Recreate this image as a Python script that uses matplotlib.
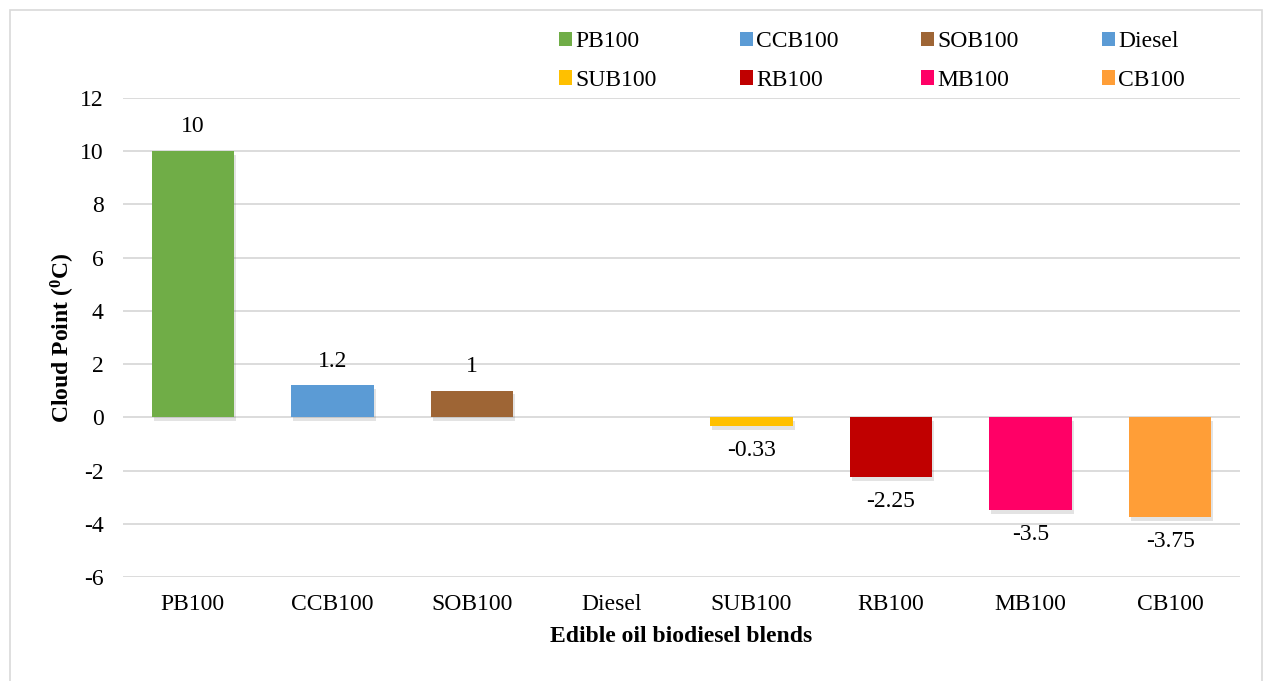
import matplotlib
matplotlib.use("Agg")
import matplotlib.pyplot as plt
import matplotlib.patheffects as pe
from matplotlib.patches import Rectangle, Patch

# Cloud point of edible oil biodiesel blends (deg C)
categories = ["PB100", "CCB100", "SOB100", "Diesel", "SUB100", "RB100", "MB100", "CB100"]
values = [10, 1.2, 1, 0, -0.33, -2.25, -3.5, -3.75]
colors = ["#70AD47", "#5B9BD5", "#9E6535", "#5B9BD5", "#FFC000", "#C00000", "#FF0066", "#FF9E37"]
yticks = [-6, -4, -2, 0, 2, 4, 6, 8, 10, 12]

plt.rcParams["font.family"] = ["Liberation Serif", "DejaVu Serif"]
FS = 17

fig = plt.figure(figsize=(12.64, 6.81), dpi=100)
fig.patch.set_facecolor("white")
# light frame around the chart area
fig.add_artist(Rectangle((10 / 1264, -0.01), 1252 / 1264, 1 - 10 / 681 + 0.01,
                         transform=fig.transFigure, fill=False,
                         edgecolor="#D9D9D9", linewidth=1.2))

ax = fig.add_axes([123 / 1264, 104 / 681, 1117 / 1264, 479 / 681])
x = list(range(len(categories)))
bars = ax.bar(x, values, width=0.59, color=colors, zorder=3)
shadow = [pe.SimplePatchShadow(offset=(1.5, -2.5), shadow_rgbFace="#808080", alpha=0.22),
          pe.Normal()]
for b in bars:
    b.set_path_effects(shadow)

for xi, v in zip(x, values):
    if v == 0:
        continue
    off = 10 if v > 0 else -10
    ax.annotate(f"{v:g}", (xi, v), xytext=(0, off), textcoords="offset points",
                ha="center", va="bottom" if v > 0 else "top", fontsize=FS)

ax.set_ylim(-6, 12)
ax.set_xlim(-0.5, len(categories) - 0.5)
ax.set_yticks(yticks)
ax.set_yticklabels([str(t) for t in yticks])
ax.set_xticks(x)
ax.set_xticklabels(categories)
ax.tick_params(axis="both", length=0, labelsize=FS)
ax.tick_params(axis="y", pad=14)
ax.tick_params(axis="x", pad=12)
ax.yaxis.grid(True, color="#D9D9D9", linewidth=1.3, zorder=0)
ax.set_axisbelow(True)
for s in ax.spines.values():
    s.set_visible(False)

ax.set_ylabel("Cloud Point ($\\mathregular{^{0}}$C)", fontsize=FS, fontweight="bold", labelpad=2)
ax.set_xlabel("Edible oil biodiesel blends", fontsize=FS, fontweight="bold", labelpad=8)

# legend entries laid out row by row (matplotlib fills columns first)
ncol = 4
nrow = 2
order = [r * ncol + c for c in range(ncol) for r in range(nrow)]
handles = [Patch(facecolor=colors[i], edgecolor="none") for i in order]
labels = [categories[i] for i in order]
fig.legend(handles, labels, ncol=ncol, loc="center",
           bbox_to_anchor=(872 / 1264, 1 - 61 / 681), frameon=False,
           fontsize=FS, handlelength=0.55, handleheight=0.55, handletextpad=0.15,
           columnspacing=3.5, labelspacing=0.75)

fig.savefig("out.png", dpi=100)
